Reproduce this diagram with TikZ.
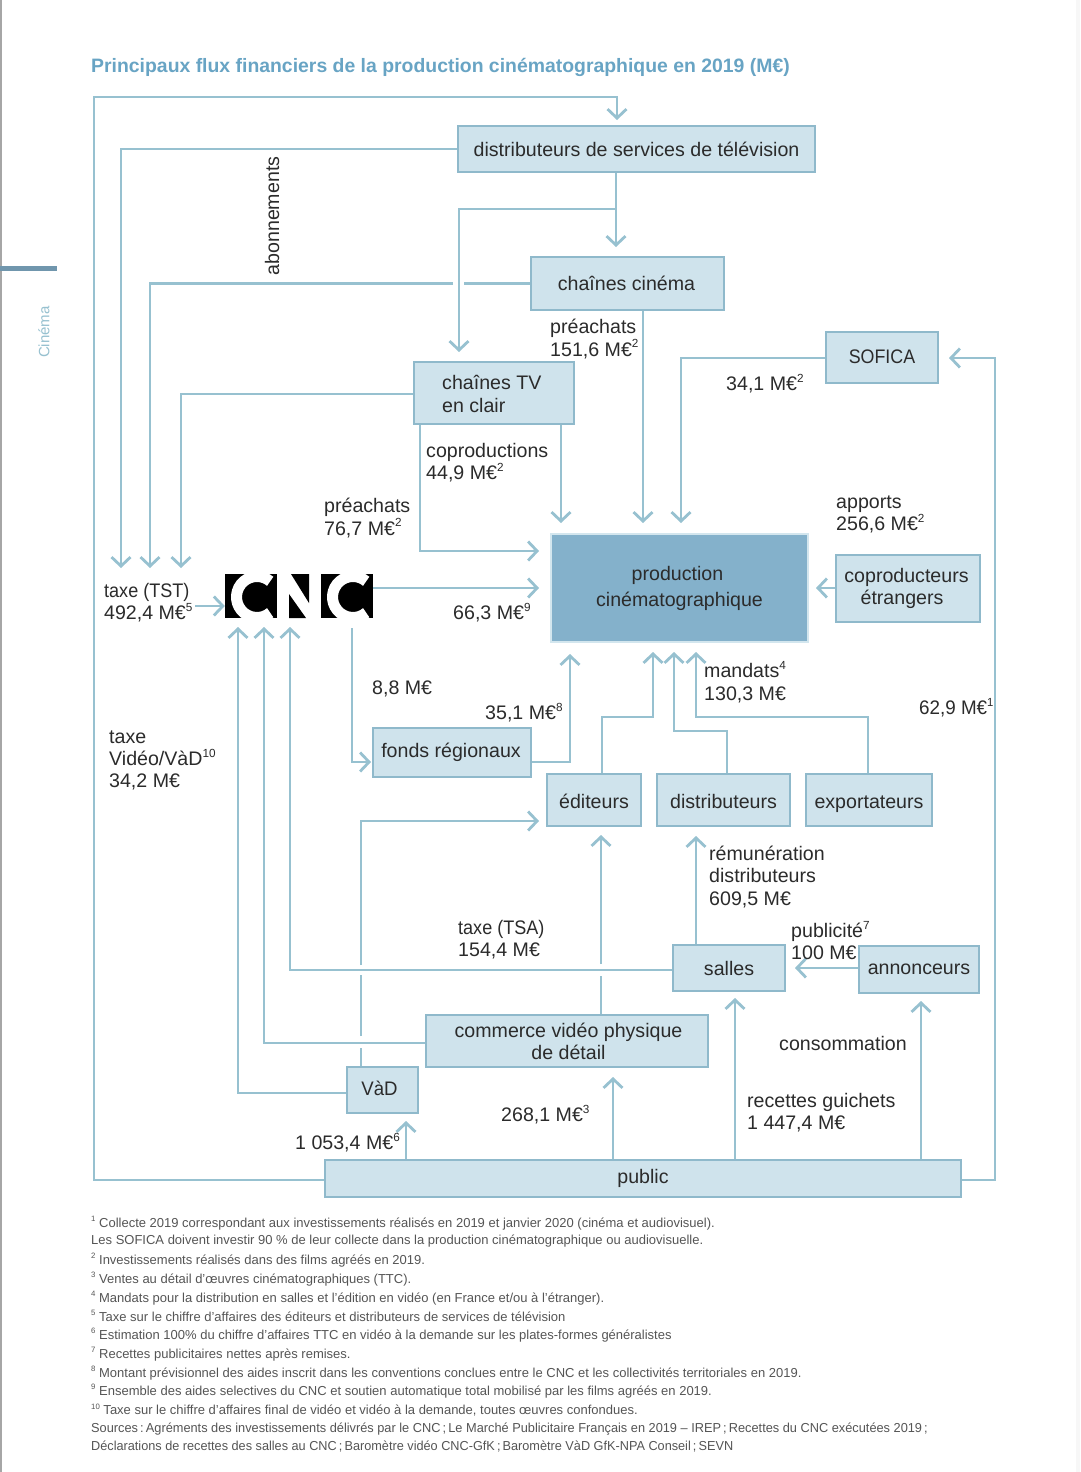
\documentclass[tikz,border=0pt]{standalone}
\usepackage{fontspec}
\usepackage{graphicx}
\setmainfont{Liberation Sans}
\usetikzlibrary{arrows.meta}
\definecolor{linec}{HTML}{97C1D0}
\definecolor{boxf}{HTML}{CFE3EC}
\definecolor{boxd}{HTML}{8FB9CB}
\definecolor{prodf}{HTML}{84B1CB}
\definecolor{prodd}{HTML}{D3E6EE}
\definecolor{titlec}{HTML}{68A4C4}
\definecolor{txt}{HTML}{2B2B2B}
\definecolor{note}{HTML}{555555}
\newcommand\mainsz{\fontsize{19.6}{22.2}\selectfont}
\newcommand\sx[1]{\raisebox{.42em}{\scalebox{.6}{#1}}}
\newcommand\nrw[2][.92]{\scalebox{#1}[1]{#2}}
\tikzset{
 x=1pt,y=-1pt,
 flow/.style={draw=linec,line width=2.8pt,line join=miter},
 arrowed/.style={flow,-{Straight Barb[length=9pt,width=19pt,line width=2.8pt]}},
 box/.style={draw=boxd,fill=boxf,line width=2.8pt,inner sep=0pt,text=txt,align=center,font=\mainsz},
 prod/.style={box,draw=prodd,fill=prodf},
 lab/.style={anchor=west,inner sep=0pt,align=left,text=txt,font=\mainsz,yshift=-1.5pt},
 notel/.style={anchor=west,inner sep=0pt,text=note,font=\fontsize{13}{14}\selectfont,yshift=-1pt},
 boxtext/.style={inner sep=0pt,align=center,text=txt,font=\mainsz},
 basedown/.style={text height={10pt+#1},text depth={10pt-#1}},
}
\newcommand\bx[7][box]{%
 \pgfmathsetmacro\bw{#5-#3}\pgfmathsetmacro\bh{#6-#4}%
 \node[#1,minimum width=\bw pt,minimum height=\bh pt] (#2) at ({(#3+#5)/2},{(#4+#6)/2}) {#7};}
\newcommand\cshape[1]{%
 \begin{scope}[shift={(#1,0)}]
 \fill[black] (225,574) rectangle (277,618);
 \begin{scope}
 \clip (225,574) rectangle (277,618);
 \draw[white,line width=11pt] (257,597)+(50:20.5) arc[start angle=50,end angle=310,radius=20.5];
 \end{scope}
 \end{scope}}
\begin{document}
\begin{tikzpicture}
\useasboundingbox (0,0) rectangle (1080,1472);
\fill[white] (0,0) rectangle (1080,1472);
\fill[gray!70] (0,0) rectangle (1.5,1472);
\fill[black!3] (1076,0) rectangle (1080,1472);
\fill[fill=prodf!85!black] (0,266) rectangle (57,271);
\node[rotate=90,inner sep=0pt,text=linec,font=\fontsize{15}{17}\selectfont] (side) at (44,332) {Cinéma};
\node[anchor=west,inner sep=0pt,text=titlec,font=\fontsize{19.4}{24}\selectfont\bfseries] (title) at (91,67.5) {Principaux flux financiers de la production cinématographique en 2019 (M€)};

% boxes
\bx{dist}{458}{126}{815}{172}{distributeurs de services de télévision}
\bx{cine}{531}{257}{724}{310}{\hspace*{-2pt}chaînes cinéma}
\bx{clair}{414}{362}{574}{424}{}
\node[lab] (clairtext) at (442,392.5) {chaînes TV\\en clair};
\bx[box,basedown=5.5pt]{sofica}{826}{332}{938}{383}{\nrw[.91]{SOFICA}}
\bx[prod]{prodn}{551}{534}{808}{642}{}
\node[boxtext] (prodtext) at (679.5,588.5) {\hspace*{-4pt}production\\[3pt]cinématographique};
\bx{copro}{836}{555}{980}{622}{\hspace*{-3pt}coproducteurs\\\hspace*{-12pt}étrangers}
\bx{fonds}{373}{728}{531}{777}{\hspace*{-2pt}fonds régionaux}
\bx[box,basedown=8pt]{edit}{547}{774}{641}{826}{éditeurs}
\bx[box,basedown=8pt]{distr}{657}{774}{790}{826}{distributeurs}
\bx[box,basedown=8pt]{expo}{806}{774}{932}{826}{exportateurs}
\bx{salles}{673}{945}{785}{991}{salles}
\bx{annon}{859}{946}{979}{993}{annonceurs}
\bx{comm}{426}{1015}{708}{1067}{\hspace*{3pt}commerce vidéo physique\\\hspace*{3pt}de détail}
\bx[box,basedown=5.5pt]{vad}{347}{1067}{418}{1113}{\hspace*{-6pt}\nrw[.95]{VàD}}
\bx{public}{325}{1160}{961}{1197}{public}

% CNC logo
\node[inner sep=0pt,minimum width=148pt,minimum height=46pt] (cnc) at (299,597) {};
\cshape{0}
\cshape{96}
\fill[black] (291,574) -- (309,574) -- (309,603) -- cycle;
\fill[black] (289,594) -- (289,618) -- (306,618) -- cycle;

% connectors
\draw[arrowed] (public.west |- 0,1180) -- (94,1180) -- (94,97) -- (617,97) -- (617,120);
\draw[arrowed] (dist.west) -- (121,149) -- (121,568);
\draw[arrowed] (616,0 |- dist.south) -- (616,247);
\draw[arrowed] (616,209) -- (459,209) -- (459,352);
\draw[flow] (cine.west) -- (464,0 |- cine.west);
\draw[arrowed] (453,0 |- cine.west) -- (150,0 |- cine.west) -- (150,568);
\draw[arrowed] (643,0 |- cine.south) -- (643,523);
\draw[arrowed] (clair.west |- 0,394) -- (181,394) -- (181,568);
\draw[arrowed] (420,0 |- clair.south) -- (420,551) -- (539,551);
\draw[arrowed] (561,0 |- clair.south) -- (561,523);
\draw[arrowed] (sofica.west |- 0,358) -- (681,358) -- (681,523);
\draw[arrowed] (public.east |- 0,1180) -- (995,1180) -- (995,358) -- (949,358);
\draw[arrowed] (copro.west |- 0,588) -- (816,588);
\draw[arrowed] (cnc.east |- 0,588) -- (539,588);
\coordinate (tstfrom) at (195,606);
\draw[arrowed] (tstfrom) -- (cnc.west |- tstfrom);
\draw[arrowed] (vad.west |- 0,1093) -- (238,1093) -- (238,627);
\draw[arrowed] (comm.west |- 0,1043) -- (264,1043) -- (264,627);
\draw[arrowed] (salles.west |- 0,970) -- (290,970) -- (290,627);
\draw[arrowed] (352,628) -- (352,762) -- (371,762);
\draw[arrowed] (fonds.east |- 0,762) -- (570,762) -- (570,654);
\draw[arrowed] (602,0 |- edit.north) -- (602,717) -- (653,717) -- (653,652);
\draw[arrowed] (727,0 |- distr.north) -- (727,731) -- (674,731) -- (674,652);
\draw[arrowed] (868,0 |- expo.north) -- (868,717) -- (696,717) -- (696,652);
\draw[flow] (601,0 |- comm.north) -- (601,976);
\draw[arrowed] (601,964) -- (601,835);
\draw[arrowed] (696,0 |- salles.north) -- (696,836);
\draw[flow] (361,0 |- vad.north) -- (361,1048);
\draw[flow] (361,1036) -- (361,975);
\draw[arrowed] (361,965) -- (361,821) -- (539,821);
\draw[arrowed] (annon.west |- 0,968) -- (795,968);
\draw[arrowed] (735,0 |- public.north) -- (735,998);
\draw[arrowed] (921,0 |- public.north) -- (921,1001);
\draw[arrowed] (613,0 |- public.north) -- (613,1077);
\draw[arrowed] (406,0 |- public.north) -- (406,1121);

% labels
\node[rotate=90,inner sep=0pt,text=txt,font=\mainsz] (abo) at (272,216) {abonnements};
\node[lab] (l1) at (550,337.5) {préachats\\151,6 M€\sx{2}};
\node[lab] (l2) at (426,461.5) {coproductions\\44,9 M€\sx{2}};
\node[lab] (l3) at (324,516.5) {préachats\\76,7 M€\sx{2}};
\node[lab] (l4) at (726,382) {34,1 M€\sx{2}};
\node[lab] (l5) at (836,513) {apports\\256,6 M€\sx{2}};
\node[lab] (l6) at (104,601) {\nrw{taxe (TST)}\\492,4 M€\sx{5}};
\node[lab] (l7) at (453,611) {66,3 M€\sx{9}};
\node[lab] (l8) at (372,687) {8,8 M€};
\node[lab] (l9) at (485,711) {35,1 M€\sx{8}};
\node[lab] (l10) at (704,680.5) {mandats\sx{4}\\130,3 M€};
\node[lab] (l11) at (919,706) {\nrw[.96]{62,9 M€\sx{1}}};
\node[lab] (l12) at (109,759) {taxe\\Vidéo/VàD\sx{10}\\34,2 M€};
\node[lab] (l13) at (709,875.5) {rémunération\\distributeurs\\609,5 M€};
\node[lab] (l14) at (458,938) {\nrw{taxe (TSA)}\\154,4 M€};
\node[lab] (l15) at (791,939) {publicité\sx{7}\\100 M€};
\node[lab] (l16) at (779,1042) {consommation};
\node[lab] (l17) at (747,1111) {recettes guichets\\1 447,4 M€};
\node[lab] (l18) at (501,1113) {268,1 M€\sx{3}};
\node[lab] (l19) at (295,1141) {1 053,4 M€\sx{6}};

% notes
\node[notel] (n1) at (91,1222) {\sx{1} Collecte 2019 correspondant aux investissements réalisés en 2019 et janvier 2020 (cinéma et audiovisuel).};
\node[notel] (n2) at (91,1240) {Les SOFICA doivent investir 90 \% de leur collecte dans la production cinématographique ou audiovisuelle.};
\node[notel] (n3) at (91,1259) {\sx{2} Investissements réalisés dans des films agréés en 2019.};
\node[notel] (n4) at (91,1278) {\sx{3} Ventes au détail d’œuvres cinématographiques (TTC).};
\node[notel] (n5) at (91,1297) {\sx{4} Mandats pour la distribution en salles et l’édition en vidéo (en France et/ou à l’étranger).};
\node[notel] (n6) at (91,1315) {\sx{5} Taxe sur le chiffre d’affaires des éditeurs et distributeurs de services de télévision};
\node[notel] (n7) at (91,1334) {\sx{6} Estimation 100\% du chiffre d’affaires TTC en vidéo à la demande sur les plates-formes généralistes};
\node[notel] (n8) at (91,1353) {\sx{7} Recettes publicitaires nettes après remises.};
\node[notel] (n9) at (91,1372) {\sx{8} Montant prévisionnel des aides inscrit dans les conventions conclues entre le CNC et les collectivités territoriales en 2019.};
\node[notel] (n10) at (91,1390) {\sx{9} Ensemble des aides selectives du CNC et soutien automatique total mobilisé par les films agréés en 2019.};
\node[notel] (n11) at (91,1409) {\sx{10} Taxe sur le chiffre d’affaires final de vidéo et vidéo à la demande, toutes œuvres confondues.};
\node[notel] (n12) at (91,1428) {\nrw[.983]{Sources\,:\,Agréments des investissements délivrés par le CNC\,;\,Le Marché Publicitaire Français en 2019 – IREP\,;\,Recettes du CNC exécutées 2019\,;}};
\node[notel] (n13) at (91,1446) {\nrw[.977]{Déclarations de recettes des salles au CNC\,;\,Baromètre vidéo CNC-GfK\,;\,Baromètre VàD GfK-NPA Conseil\,;\,SEVN}};
\end{tikzpicture}
\end{document}
